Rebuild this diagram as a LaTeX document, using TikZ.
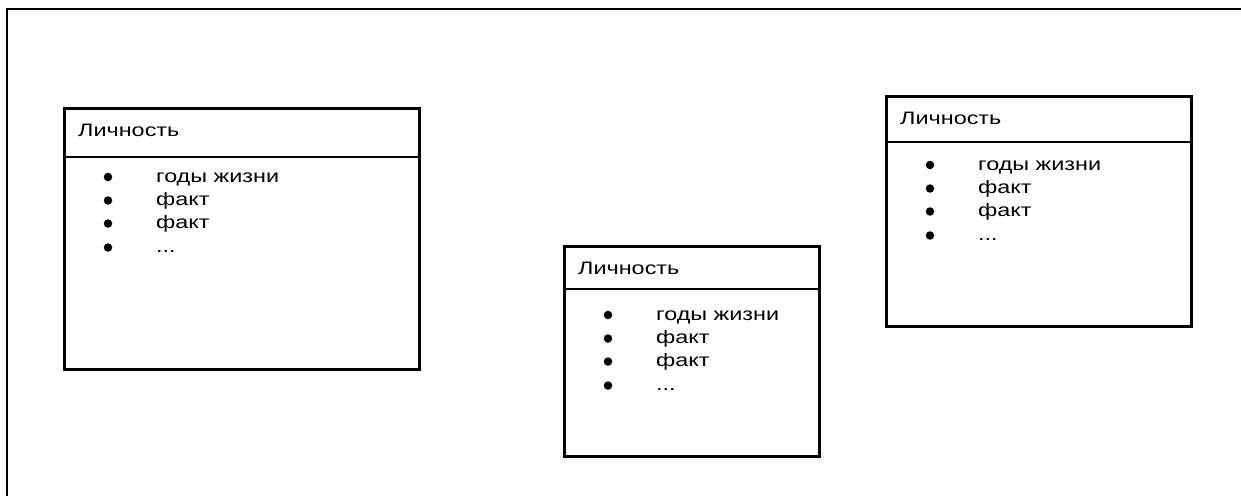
\documentclass[tikz,border=0pt]{standalone}
\usepackage{fontspec}
\setmainfont{Liberation Sans}[FakeStretch=1.3]
\tikzset{
  frameline/.style={line width=2.2pt, line cap=rect},
  pbox/.style={draw, line width=2.6pt, rectangle, inner sep=0pt, anchor=north west},
  divline/.style={line width=2.2pt},
  ptitle/.style={anchor=base west, inner sep=0pt, font=\fontsize{18}{18}\selectfont},
  pitem/.style={anchor=base west, inner sep=0pt, font=\fontsize{18}{18}\selectfont},
  pdot/.style={circle, fill=black, inner sep=0pt, minimum size=8.5pt}
}
% #1 name, #2 left, #3 top, #4 width, #5 height, #6 divider offset
\newcommand\personbox[6]{%
  \begin{scope}[shift={(#2,#3)}]
    \node[pbox, minimum width=#4pt, minimum height=#5pt] (#1) at (0,0) {};
    \draw[divline] (#1.north west) ++(0,#6) coordinate (#1-dl) -- (#1-dl -| #1.east);
    \node[ptitle] (#1-t) at (15,29.5) {Личность};
    \node[pdot] (#1-b1) at (45,70) {};
    \node[pdot] (#1-b2) at (45,93.5) {};
    \node[pdot] (#1-b3) at (45,116.5) {};
    \node[pdot] (#1-b4) at (45,140.5) {};
    \node[pitem] (#1-i1) at (93,75) {годы жизни};
    \node[pitem] (#1-i2) at (93,98.5) {факт};
    \node[pitem] (#1-i3) at (93,121.5) {факт};
    \node[pitem] (#1-i4) at (93,145.5) {...};
  \end{scope}}
\begin{document}
\begin{tikzpicture}[x=1pt,y=-1pt]
  \useasboundingbox (0,0) rectangle (1241,495);
  \begin{scope}
    \clip (0,0) rectangle (1241,495);
    \coordinate (fr-tr) at (1250,9);
    \coordinate (fr-tl) at (7,9);
    \coordinate (fr-bl) at (7,505);
    \draw[frameline] (fr-tr) -- (fr-tl) -- (fr-bl);
  \end{scope}
  \personbox{p1}{63}{107}{355}{261}{50}
  \personbox{p2}{563}{245}{255}{210}{44}
  \personbox{p3}{885}{95}{305}{230}{47}
\end{tikzpicture}
\end{document}
